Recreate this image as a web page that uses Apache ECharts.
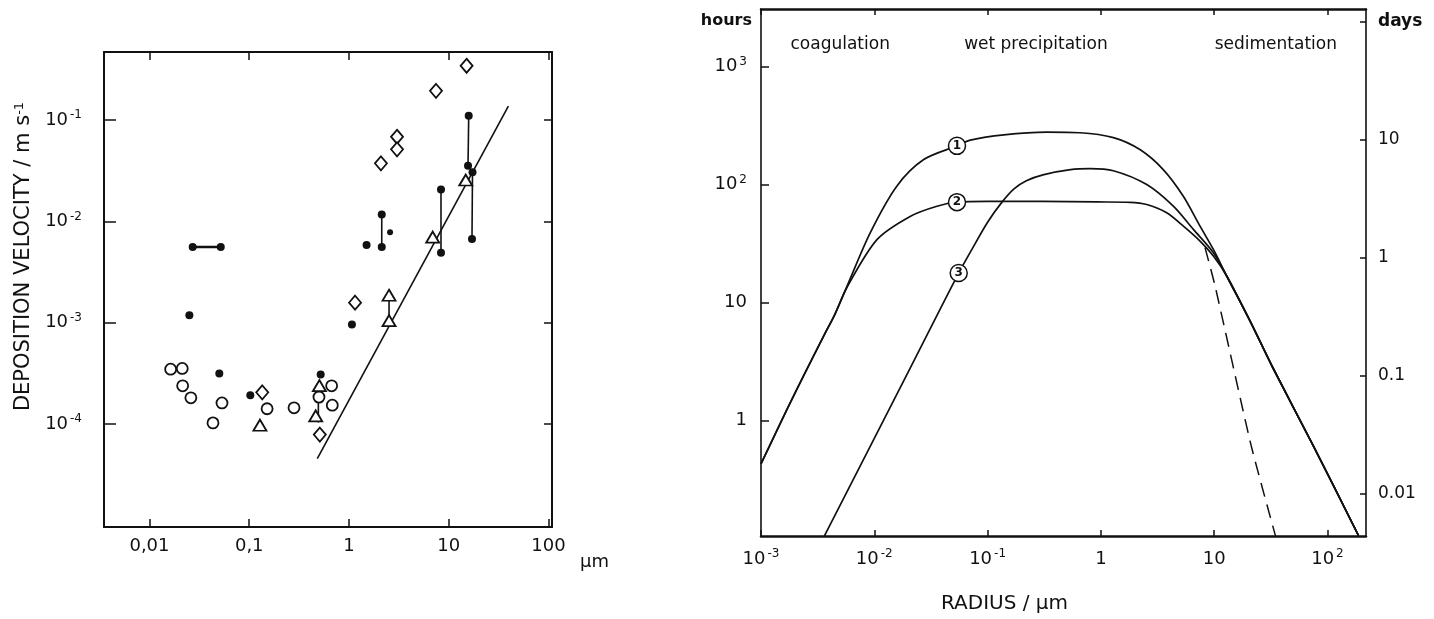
<!DOCTYPE html>
<html><head><meta charset="utf-8">
<script src="https://cdn.jsdelivr.net/npm/echarts@6/dist/echarts.min.js"></script>
<style>html,body{margin:0;padding:0;background:#fff}#c{width:1434px;height:619px}</style>
</head><body><div id="c"></div>
<script>
// ---------- LEFT PANEL DATA (particle size µm, deposition velocity m/s) ----------
const filledDots = [[0.0271,0.0056],[0.0518,0.0056],[0.0251,0.00119],[0.0501,3.16e-4],[0.1025,1.93e-4],
  [0.52,3.09e-4],[1.07,9.64e-4],[1.50,0.00584],[2.13,0.0117],[2.13,0.0056],[8.36,0.0207],[8.36,0.0049],
  [15.85,0.110],[15.6,0.0354],[17.3,0.0305],[17.1,0.0067]];
const smallFilledDots = [[2.58,0.0078]];
const openCircles = [[0.0163,3.49e-4],[0.0213,3.55e-4],[0.0215,2.39e-4],[0.026,1.82e-4],[0.0433,1.03e-4],
  [0.0533,1.62e-4],[0.151,1.42e-4],[0.281,1.45e-4],[0.5,1.85e-4],[0.67,2.39e-4],[0.68,1.54e-4]];
const openDiamonds = [[0.135,2.06e-4],[0.51,7.9e-5],[1.15,1.58e-3],[2.09,0.0374],[3.03,0.0684],[3.03,0.0514],
  [7.45,0.194],[15.1,0.343]];
const openTriangles = [[0.128,9.77e-5],[0.505,2.4e-4],[0.464,1.21e-4],[2.52,1.87e-3],[2.52,1.05e-3],
  [6.9,0.0070],[14.8,0.0256]];
const errorBars = [[0.0271,0.0056,0.0518,0.0056],[2.13,0.0117,2.13,0.0056],[8.36,0.0207,8.36,0.0049],
  [15.85,0.110,15.6,0.0354],[17.3,0.0305,17.1,0.0067],[2.52,1.87e-3,2.52,1.05e-3],[0.493,1.85e-4,0.493,1.04e-4]];
const fitLine = [[0.481,4.58e-5],[39.6,0.137]];
const leftXTicks = [-2,-1,0,1,2];
const leftXTickLabels = ['0,01','0,1','1','10','100'];
const leftYTicks = [-4,-3,-2,-1];

// ---------- RIGHT PANEL DATA (radius µm, residence time hours) ----------
const curve1 = [[0.001,0.43],[0.0017,1.25],[0.00238,2.4],[0.00357,5.2],[0.0045,8.0],[0.00575,13.8],
  [0.0092,39],[0.0158,97],[0.0273,163],[0.0537,213],[0.0704,238],[0.139,264],[0.334,278],[0.655,275],
  [1.29,250],[2.21,198],[3.55,134],[5.34,79.6],[7.5,44.4],[9.84,28.2],[12.9,16.8],[20.7,7.0],[33.3,2.75],
  [75,0.61],[188,0.106]];
const curve2 = [[0.001,0.43],[0.0017,1.25],[0.00238,2.4],[0.00357,5.2],[0.0045,8.0],[0.00575,13.5],
  [0.0106,34.3],[0.0209,54],[0.0357,65.6],[0.0537,71],[0.1,72],[0.3,72],[0.925,71.3],[1.81,70.8],
  [2.54,67.8],[3.81,57.7],[5.35,44.4],[7.5,33.2],[9.84,24.8],[12.9,16.8],[20.7,7.0],[33.3,2.75],
  [75,0.61],[188,0.106]];
const curve3 = [[0.00362,0.105],[0.02,2.6],[0.0425,10.8],[0.0556,17.8],[0.0708,27],[0.1,48],[0.134,71],
  [0.171,92],[0.22,108],[0.314,121.6],[0.54,134],[0.8,136.5],[1.29,131],[2.54,100],[4.36,65.6],[6.55,41.7],
  [9.84,26.5],[12.9,16.8],[20.7,7.0],[33.3,2.75],[75,0.61],[188,0.106]];
const dashedBranch = [[8.3,29.2],[10.1,14.3],[21.2,0.614],[34.8,0.105]];
const curveTags = [[0.0537,213,'1'],[0.0537,71,'2'],[0.0556,17.8,'3']];
const regionNames = ['coagulation','wet precipitation','sedimentation'];
const regionLabelX = [0.005,0.267,35];
const regionLabelY = 1524;
const rightXTicks = [-3,-2,-1,0,1,2];
const hourTicks = [0,1,2,3];
const dayTicks = [-2,-1,0,1,2];
const dayTickLabels = ['0.01','0.1','1','10','days'];
const HOURS_PER_DAY = 24;

// ---------- helpers ----------
const L = Math.log10;
const toLog = p => [L(p[0]), L(p[1])];
const FONT = 'DejaVu Sans';
const INK = '#111';
const supRich = {
  b:{fontSize:18,fontFamily:FONT,color:INK,lineHeight:22},
  s:{fontSize:12,fontFamily:FONT,color:INK,verticalAlign:'top',lineHeight:12,padding:[0,0,0,2]},
  d:{fontSize:17,fontFamily:FONT,color:INK,fontWeight:'bold'}
};
function pow10(v){
  if (v === 0) return '{b|1}';
  if (v === 1) return '{b|10}';
  return '{b|10}{s|' + (v < 0 ? '-' + (-v) : v) + '}';
}
function frameAxis(extra){
  return Object.assign({
    type:'value', splitLine:{show:false},
    axisLine:{show:true,onZero:false,lineStyle:{color:INK,width:2}},
    axisTick:{show:true,inside:true,length:8,lineStyle:{color:INK,width:1.5}},
    axisLabel:{show:false}
  }, extra);
}

const LGRID = {left:104,top:52,width:448,height:475};
const RGRID = {left:761,top:9,width:605,height:528};
const LX = [-2.456, 2.035], LY = [-5.014, -0.329];
const RX = [-3, 2.34], RY = [-0.978, 3.488];
const RD = [RY[0]-L(HOURS_PER_DAY), RY[1]-L(HOURS_PER_DAY)];

const xAxis = [
  frameAxis({gridIndex:0,position:'bottom',min:LX[0],max:LX[1],
    axisTick:{show:true,inside:true,length:8,customValues:leftXTicks,lineStyle:{color:INK,width:1.5}},
    axisLabel:{show:true,customValues:leftXTicks,margin:10,fontSize:18,fontFamily:FONT,color:INK,
      formatter:v=>leftXTickLabels[leftXTicks.indexOf(Math.round(v))]}}),
  frameAxis({gridIndex:0,position:'top',min:LX[0],max:LX[1],
    axisTick:{show:true,inside:true,length:8,customValues:leftXTicks,lineStyle:{color:INK,width:1.5}}}),
  frameAxis({gridIndex:1,position:'bottom',min:RX[0],max:RX[1],
    axisLine:{show:true,onZero:false,lineStyle:{color:INK,width:2.5}},
    axisTick:{show:true,inside:true,length:6,customValues:rightXTicks,lineStyle:{color:INK,width:1.5}},
    axisLabel:{show:true,customValues:rightXTicks,margin:12,formatter:v=>pow10(Math.round(v)),rich:supRich},
    name:'RADIUS / μm',nameLocation:'middle',nameGap:58,
    nameTextStyle:{fontSize:20,fontFamily:FONT,color:INK,padding:[0,118,0,0]}}),
  frameAxis({gridIndex:1,position:'top',min:RX[0],max:RX[1],
    axisLine:{show:true,onZero:false,lineStyle:{color:INK,width:2.5}},
    axisTick:{show:true,inside:true,length:6,customValues:rightXTicks,lineStyle:{color:INK,width:1.5}}})
];
const yAxis = [
  frameAxis({gridIndex:0,position:'left',min:LY[0],max:LY[1],
    axisTick:{show:true,inside:true,length:12,customValues:leftYTicks,lineStyle:{color:INK,width:1.5}},
    axisLabel:{show:true,customValues:leftYTicks,margin:22,formatter:v=>pow10(Math.round(v)),rich:supRich},
    name:'DEPOSITION VELOCITY / m s{s|-1}',nameLocation:'middle',nameRotate:90,nameGap:70,
    nameTextStyle:{fontSize:21,fontFamily:FONT,color:INK,padding:[0,0,0,66],
      rich:{s:{fontSize:13,fontFamily:FONT,color:INK,verticalAlign:'top'}}}}),
  frameAxis({gridIndex:0,position:'right',min:LY[0],max:LY[1],
    axisTick:{show:true,inside:true,length:8,customValues:leftYTicks,lineStyle:{color:INK,width:1.5}}}),
  frameAxis({gridIndex:1,position:'left',min:RY[0],max:RY[1],
    axisLine:{show:true,onZero:false,lineStyle:{color:INK,width:1.6}},
    axisTick:{show:true,inside:true,length:8,customValues:hourTicks,lineStyle:{color:INK,width:1.5}},
    axisLabel:{show:true,customValues:hourTicks,margin:14,formatter:v=>pow10(Math.round(v)),rich:supRich},
    name:'hours',nameLocation:'end',nameGap:-12,
    nameTextStyle:{fontSize:16,fontWeight:'bold',fontFamily:FONT,color:INK,align:'right',verticalAlign:'middle',padding:[0,9,0,0]}}),
  frameAxis({gridIndex:1,position:'right',min:RD[0],max:RD[1],
    axisLine:{show:true,onZero:false,lineStyle:{color:INK,width:1.6}},
    axisTick:{show:true,inside:true,length:6,customValues:dayTicks,lineStyle:{color:INK,width:1.5}},
    axisLabel:{show:true,customValues:dayTicks,margin:12,fontSize:17,fontFamily:FONT,color:INK,rich:supRich,
      formatter:v=>{const t=dayTickLabels[dayTicks.indexOf(Math.round(v))];return t==='days'?'{d|days}':t;}}})
];

const series = [];
// left panel
series.push({type:'line',xAxisIndex:0,yAxisIndex:0,data:fitLine.map(toLog),symbol:'none',
  lineStyle:{color:INK,width:1.6},z:2,silent:true});
errorBars.forEach(b=>{
  series.push({type:'line',xAxisIndex:0,yAxisIndex:0,data:[[L(b[0]),L(b[1])],[L(b[2]),L(b[3])]],symbol:'none',
    lineStyle:{color:INK,width:b[1]===b[3]?2.6:1.6},z:3,silent:true});
});
const openStyle = {color:'#fff',borderColor:INK,borderWidth:1.8,opacity:1};
const solidStyle = {color:INK,opacity:1};
series.push({type:'scatter',xAxisIndex:0,yAxisIndex:0,data:openCircles.map(toLog),symbol:'circle',symbolSize:11,itemStyle:openStyle,z:5});
series.push({type:'scatter',xAxisIndex:0,yAxisIndex:0,data:openDiamonds.map(toLog),symbol:'diamond',symbolSize:[12,14],itemStyle:openStyle,z:5});
series.push({type:'scatter',xAxisIndex:0,yAxisIndex:0,data:openTriangles.map(toLog),symbol:'triangle',symbolSize:[13,11],itemStyle:openStyle,z:5});
series.push({type:'scatter',xAxisIndex:0,yAxisIndex:0,data:filledDots.map(toLog),symbol:'circle',symbolSize:8,itemStyle:solidStyle,z:6});
series.push({type:'scatter',xAxisIndex:0,yAxisIndex:0,data:smallFilledDots.map(toLog),symbol:'circle',symbolSize:6,itemStyle:solidStyle,z:6});

// right panel
[curve1,curve2,curve3].forEach(c=>{
  series.push({type:'line',xAxisIndex:2,yAxisIndex:2,data:c.map(toLog),symbol:'none',smooth:0.3,
    lineStyle:{color:INK,width:1.7},z:3,silent:true});
});
series.push({type:'line',xAxisIndex:2,yAxisIndex:2,data:dashedBranch.map(toLog),symbol:'none',smooth:0.2,
  lineStyle:{color:INK,width:1.5,type:[14,8]},z:3,silent:true});
series.push({type:'scatter',xAxisIndex:2,yAxisIndex:2,symbol:'circle',symbolSize:17,
  data:curveTags.map(t=>[L(t[0]),L(t[1]),t[2]]),
  itemStyle:{color:'#fff',borderColor:INK,borderWidth:1.5,opacity:1},z:6,
  label:{show:true,position:'inside',formatter:p=>p.value[2],fontSize:12,fontWeight:'bold',fontFamily:FONT,color:INK}});
series.push({type:'scatter',xAxisIndex:2,yAxisIndex:2,symbolSize:0,itemStyle:{opacity:1},
  data:regionNames.map((n,i)=>({name:n,value:[L(regionLabelX[i]),L(regionLabelY)]})),
  label:{show:true,position:'inside',formatter:p=>p.name,fontSize:17,fontFamily:FONT,color:INK,opacity:1},z:6});

const chart = echarts.init(document.getElementById('c'),null,{renderer:'canvas'});
chart.setOption({
  animation:false,
  backgroundColor:'#fff',
  grid:[LGRID,RGRID],
  graphic:[{type:'text',left:LGRID.left+LGRID.width+28,top:LGRID.top+LGRID.height+26,
    style:{text:'μm',fontSize:18,fontFamily:FONT,fill:INK}}],
  xAxis, yAxis, series
});
</script></body></html>
